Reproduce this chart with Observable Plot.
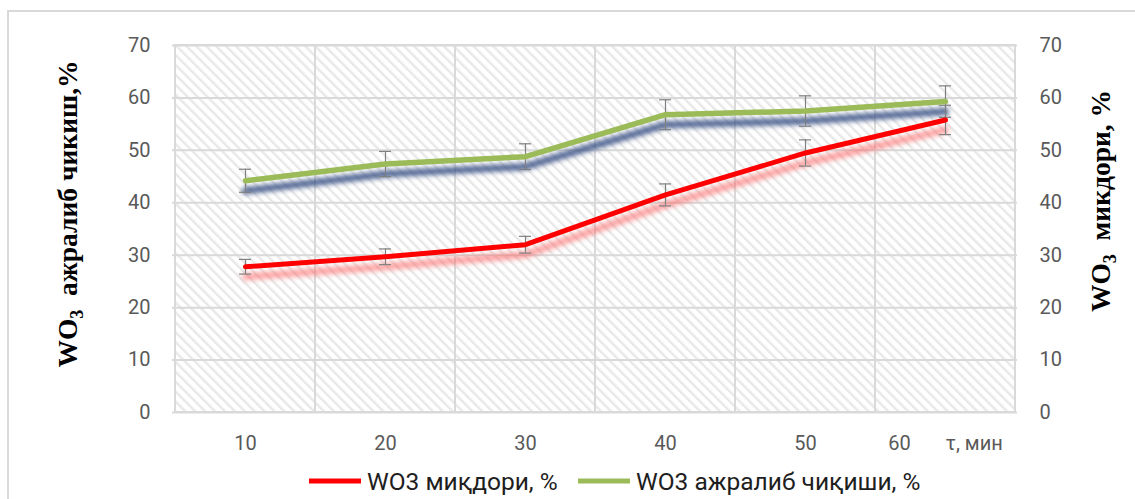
<!DOCTYPE html>
<html>
<head>
<meta charset="utf-8">
<script src="https://cdn.jsdelivr.net/npm/d3@7"></script>
<script src="https://cdn.jsdelivr.net/npm/@observablehq/plot@0.6"></script>
<style>
  html, body { margin: 0; padding: 0; background: #fff; overflow: hidden; }
  #wrap { position: relative; width: 1135px; height: 499px; overflow: hidden; }
  #border { position: absolute; left: 7px; top: 10px; width: 1200px; height: 600px; border: 2px solid #d9d9d9; box-sizing: border-box; }
  #chart { position: absolute; left: 0; top: 0; }
  .ytitle { position: absolute; transform: translate(-50%, -50%) rotate(-90deg); white-space: nowrap;
            font: bold 27.5px "Liberation Serif", "Times New Roman", serif; color: #000; }
  .ytitle sub { font-size: 18px; vertical-align: -6px; line-height: 0; }
  .leg { position: absolute; top: 481px; transform: translateY(-50%); font: 24.5px Roboto, sans-serif; color: #1e1e1e; white-space: nowrap; display: flex; align-items: center; }
  .leg .sw { display: inline-block; width: 52px; height: 5px; margin-right: 6px; }
</style>
</head>
<body>
<div id="wrap">
  <div id="border"></div>
  <div id="chart"></div>
</div>
<script>
// ---- data ----
const categories = ["10", "20", "30", "40", "50", "60"];
const xTickLabels = ["10", "20", "30", "40", "50", "60\u00a0\u00a0\u00a0\u00a0\u00a0\u00a0\u00a0τ, мин"];
const amountValues = [27.8, 29.7, 32.0, 41.5, 49.5, 55.8];   // WO3 миқдори, %
const amountErrors = [1.4, 1.5, 1.6, 2.1, 2.5, 2.8];
const yieldValues = [44.2, 47.4, 48.8, 56.8, 57.5, 59.3];    // WO3 ажралиб чиқиши, %
const yieldErrors = [2.2, 2.4, 2.45, 2.85, 2.9, 3.0];
const yTicks = [0, 10, 20, 30, 40, 50, 60, 70];
const seriesNames = ["WO3 миқдори, %", "WO3 ажралиб чиқиши, %"];
const seriesColors = ["#ff0000", "#9bbb59"];
const shadowColors = ["#ff5a5a", "#344c82"];
const leftTitle = ["WO", "3", "  ажралиб чикиш,%"];
const rightTitle = ["WO", "3", "  микдори, %"];

const amount = categories.map((c, i) => ({c, v: amountValues[i], e: amountErrors[i]}));
const yieldD = categories.map((c, i) => ({c, v: yieldValues[i], e: yieldErrors[i]}));

const NS = "http://www.w3.org/2000/svg";
function defs() {
  const d = document.createElementNS(NS, "defs");
  const p = document.createElementNS(NS, "pattern");
  p.setAttribute("id", "hatch");
  p.setAttribute("patternUnits", "userSpaceOnUse");
  p.setAttribute("width", "7");
  p.setAttribute("height", "7");
  p.setAttribute("patternTransform", "rotate(-45)");
  const bg = document.createElementNS(NS, "rect");
  bg.setAttribute("width", "7"); bg.setAttribute("height", "7"); bg.setAttribute("fill", "#ffffff");
  const ln = document.createElementNS(NS, "rect");
  ln.setAttribute("x", "0"); ln.setAttribute("y", "0"); ln.setAttribute("width", "2.4"); ln.setAttribute("height", "7");
  ln.setAttribute("fill", "#e8e8e8");
  p.appendChild(bg); p.appendChild(ln);
  d.appendChild(p);
  return d;
}

const chart = Plot.plot({
  width: 1135,
  height: 460,
  marginLeft: 172,
  marginRight: 118,
  marginTop: 45,
  marginBottom: 48,
  x: {type: "band", domain: categories, padding: 0, label: null},
  y: {domain: [0, 70], label: null},
  style: {background: "transparent", fontFamily: "Roboto, sans-serif", fontSize: "20px", color: "#595959"},
  marks: [
    defs,
    Plot.cell(categories, {x: d => d, fill: "url(#hatch)", stroke: "#d9d9d9", strokeWidth: 2}),
    Plot.gridY({ticks: yTicks, stroke: "#d9d9d9", strokeOpacity: 1, strokeWidth: 2}),
    Plot.axisY({anchor: "left", ticks: yTicks, tickSize: 0, tickPadding: 22, fill: "#595959", fontSize: 20, label: null}),
    Plot.axisY({anchor: "right", ticks: yTicks, tickSize: 0, tickPadding: 22, fill: "#595959", fontSize: 20, label: null}),
    Plot.axisX({ticks: categories, tickSize: 0, tickPadding: 23, fill: "#595959", fontSize: 20, label: null,
                tickFormat: (d) => xTickLabels[categories.indexOf(d)]}),
    // shadows
    Plot.line(yieldD, {x: "c", y: "v", stroke: shadowColors[1], strokeWidth: 7, strokeOpacity: 0.85, dy: 10, imageFilter: "blur(2.5px)"}),
    Plot.line(amount, {x: "c", y: "v", stroke: shadowColors[0], strokeWidth: 7, strokeOpacity: 0.55, dy: 10, imageFilter: "blur(2.5px)"}),
    // error bars
    Plot.ruleX(yieldD, {x: "c", y1: d => d.v - d.e, y2: d => d.v + d.e, stroke: "#7f7f7f", strokeWidth: 1.2}),
    Plot.tickY(yieldD, {x: "c", y: d => d.v - d.e, stroke: "#7f7f7f", strokeWidth: 1.2, insetLeft: 64, insetRight: 64}),
    Plot.tickY(yieldD, {x: "c", y: d => d.v + d.e, stroke: "#7f7f7f", strokeWidth: 1.2, insetLeft: 64, insetRight: 64}),
    Plot.ruleX(amount, {x: "c", y1: d => d.v - d.e, y2: d => d.v + d.e, stroke: "#7f7f7f", strokeWidth: 1.2}),
    Plot.tickY(amount, {x: "c", y: d => d.v - d.e, stroke: "#7f7f7f", strokeWidth: 1.2, insetLeft: 64, insetRight: 64}),
    Plot.tickY(amount, {x: "c", y: d => d.v + d.e, stroke: "#7f7f7f", strokeWidth: 1.2, insetLeft: 64, insetRight: 64}),
    // main lines
    Plot.line(amount, {x: "c", y: "v", stroke: seriesColors[0], strokeWidth: 5}),
    Plot.line(yieldD, {x: "c", y: "v", stroke: seriesColors[1], strokeWidth: 5.5})
  ]
});
document.getElementById("chart").appendChild(chart);

const wrap = document.getElementById("wrap");
function addTitle(parts, cx, cy) {
  const t = document.createElement("div");
  t.className = "ytitle";
  t.style.left = cx + "px";
  t.style.top = cy + "px";
  t.appendChild(document.createTextNode(parts[0]));
  const s = document.createElement("sub"); s.textContent = parts[1]; t.appendChild(s);
  const rest = document.createElement("span"); rest.style.whiteSpace = "pre"; rest.textContent = parts[2]; t.appendChild(rest);
  wrap.appendChild(t);
}
addTitle(leftTitle, 68, 214);
addTitle(rightTitle, 1101, 201);

const legLefts = [309, 578];
seriesNames.forEach((n, i) => {
  const l = document.createElement("div");
  l.className = "leg";
  l.style.left = legLefts[i] + "px";
  const sw = document.createElement("span"); sw.className = "sw"; sw.style.background = seriesColors[i];
  l.appendChild(sw);
  l.appendChild(document.createTextNode(n));
  wrap.appendChild(l);
});
</script>
</body>
</html>
